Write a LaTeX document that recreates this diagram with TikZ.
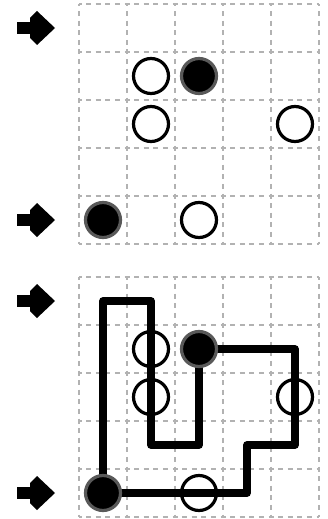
\documentclass[tikz,border=0pt]{standalone}
\begin{document}
\begin{tikzpicture}[x=1pt,y=-1pt,
  gridline/.style={draw=black!30, line width=2pt, dash pattern=on 5pt off 4.6pt, dash phase=2.5pt},
  whitestone/.style={circle, draw=black, line width=3.2pt, fill=none, minimum size=35pt, inner sep=0pt},
  blackstone/.style={circle, draw=black!65, fill=black, line width=3.2pt, minimum size=35pt, inner sep=0pt},
  pathline/.style={draw=black, line width=7.5pt, line join=round, line cap=round},
  entryarrow/.style={fill=black}]
\useasboundingbox (0,0) rectangle (328,519);
% grids
\foreach \gy in {4,277}{
  \foreach \i in {0,...,5}{
    \draw[gridline] ({79+48*\i},\gy) -- ({79+48*\i},{\gy+240});
    \draw[gridline] (79,{\gy+48*\i}) -- (319,{\gy+48*\i});
  }
}
% arrows
\foreach \ay in {28,220,301,493}{
  \fill[entryarrow] (17,{\ay-6}) rectangle (32,{\ay+6});
  \fill[entryarrow] (30,{\ay-10}) -- (37,{\ay-17}) -- (55,\ay) -- (37,{\ay+17}) -- (30,{\ay+10}) -- cycle;
}
% top board
\node[whitestone] (t11) at (151,76) {};
\node[blackstone] (t12) at (199,76) {};
\node[whitestone] (t21) at (151,124) {};
\node[whitestone] (t24) at (295,124) {};
\node[blackstone] (t40) at (103,220) {};
\node[whitestone] (t42) at (199,220) {};
% bottom board
\node[whitestone] (b11) at (151,349) {};
\node[whitestone] (b21) at (151,397) {};
\node[whitestone] (b24) at (295,397) {};
\node[whitestone] (b42) at (199,493) {};
\coordinate (b40c) at (103,493);
\coordinate (b12c) at (199,349);
\coordinate (p1) at (103,301);
\coordinate (p2) at (151,301);
\coordinate (p3) at (151,445);
\coordinate (p4) at (199,445);
\coordinate (q1) at (295,349);
\coordinate (q2) at (295,445);
\coordinate (q3) at (247,445);
\coordinate (q4) at (247,493);
\draw[pathline] (b40c) -- (p1) -- (p2) -- (p3) -- (p4) -- (b12c);
\draw[pathline] (b12c) -- (q1) -- (q2) -- (q3) -- (q4) -- (b40c);
\node[blackstone] (b12) at (b12c) {};
\node[blackstone] (b40) at (b40c) {};
\end{tikzpicture}
\end{document}
